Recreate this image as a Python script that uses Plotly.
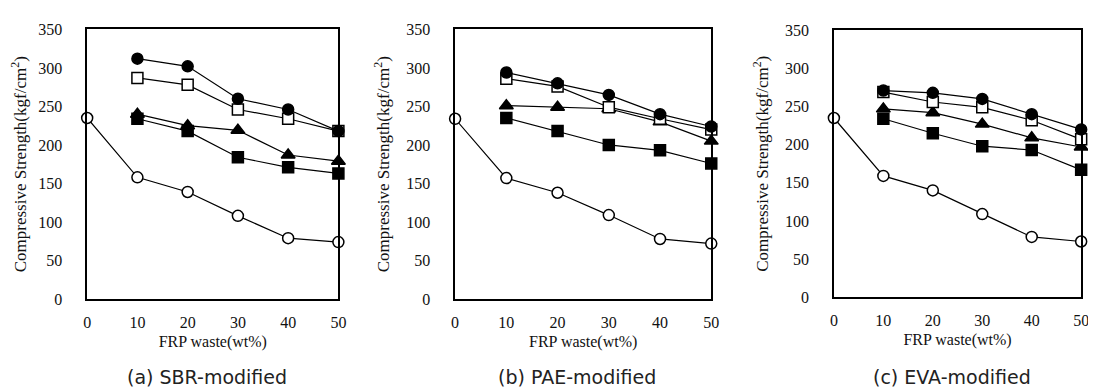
import plotly.graph_objects as go

# ---- data ----
frp = [0, 10, 20, 30, 40, 50]
frp_mod = [10, 20, 30, 40, 50]

panels = ["(a) SBR-modified", "(b) PAE-modified", "(c) EVA-modified"]

# control (open circle, no polymer) for each panel
ctrl_a = [235, 158, 139, 108, 79, 74]
ctrl_b = [234, 157, 138, 109, 78, 72]
ctrl_c = [235, 159, 140, 109, 79, 73]

# filled circle series
fc_a = [312, 302, 260, 246, 218]
fc_b = [294, 280, 265, 240, 224]
fc_c = [271, 268, 260, 240, 220]

# open square series
os_a = [287, 278, 246, 234, 218]
os_b = [286, 276, 249, 234, 220]
os_c = [269, 256, 249, 232, 207]

# filled triangle series
tr_a = [240, 225, 219, 187, 179]
tr_b = [251, 249, 247, 230, 205]
tr_c = [247, 242, 227, 209, 197]

# filled square series
fs_a = [234, 218, 184, 171, 163]
fs_b = [235, 218, 200, 193, 176]
fs_c = [234, 215, 198, 193, 167]

y_ticks = [0, 50, 100, 150, 200, 250, 300, 350]
x_ticks = [0, 10, 20, 30, 40, 50]

series = [
    (ctrl_a, ctrl_b, ctrl_c, "circle-open", True),
    (fs_a, fs_b, fs_c, "square", False),
    (tr_a, tr_b, tr_c, "triangle-up", False),
    (os_a, os_b, os_c, "square-open", False),
    (fc_a, fc_b, fc_c, "circle", False),
]

fig = go.Figure()

xdomains = [(76/1096, 330/1096), (448/1096, 707/1096), (831/1096, 1081/1096)]
ydomains = [((389-296)/389, (389-14)/389), ((389-296)/389, (389-14)/389), ((389-294)/389, (389-15)/389)]

for s in series:
    for i in range(3):
        xs = frp if s[4] else frp_mod
        sym = s[3]
        open_ = sym.endswith("-open")
        fig.add_trace(go.Scatter(
            x=xs, y=s[i], mode="lines+markers",
            xaxis="x" if i == 0 else f"x{i+1}",
            yaxis="y" if i == 0 else f"y{i+1}",
            line=dict(color="black", width=1.2),
            marker=dict(symbol=sym.replace("-open", ""), size=11 if "triangle" not in sym else 12,
                        color="white" if open_ else "black",
                        line=dict(color="black", width=1.5)),
            cliponaxis=False, showlegend=False,
        ))

serif = "Liberation Serif"
layout = dict(
    width=1096, height=389,
    margin=dict(l=0, r=0, t=0, b=0),
    paper_bgcolor="white", plot_bgcolor="white",
    showlegend=False,
    font=dict(family=serif, size=16, color="#111"),
)
for i in range(3):
    sx = "" if i == 0 else str(i+1)
    layout[f"xaxis{sx}"] = dict(
        domain=list(xdomains[i]), anchor=f"y{sx}", range=[0, 50],
        tickvals=x_ticks, ticks="", showgrid=False, zeroline=False,
        showline=True, linecolor="black", linewidth=1.5, mirror=True,
        tickfont=dict(family=serif, size=16, color="#111"),
        ticklabelstandoff=8,
        title=dict(text="FRP waste(wt%)", font=dict(family=serif, size=16, color="#111"), standoff=6),
    )
    layout[f"yaxis{sx}"] = dict(
        domain=list(ydomains[i]), anchor=f"x{sx}", range=[0, 350],
        tickvals=y_ticks, ticks="", showgrid=False, zeroline=False,
        showline=True, linecolor="black", linewidth=1.5, mirror=True,
        tickfont=dict(family=serif, size=16, color="#111"),
        ticklabelstandoff=20,
        title=dict(text="Compressive Strength(kgf/cm<sup>2</sup>)", font=dict(family=serif, size=17, color="#111"), standoff=12),
    )
fig.update_layout(**layout)

for i in range(3):
    cx = (xdomains[i][0] + xdomains[i][1]) / 2 - 6/1096
    fig.add_annotation(
        x=cx, y=(389-378)/389, xref="paper", yref="paper",
        text=panels[i], showarrow=False, xanchor="center", yanchor="middle",
        font=dict(family="DejaVu Sans", size=19, color="#222"),
    )

fig.write_html("out.html")
